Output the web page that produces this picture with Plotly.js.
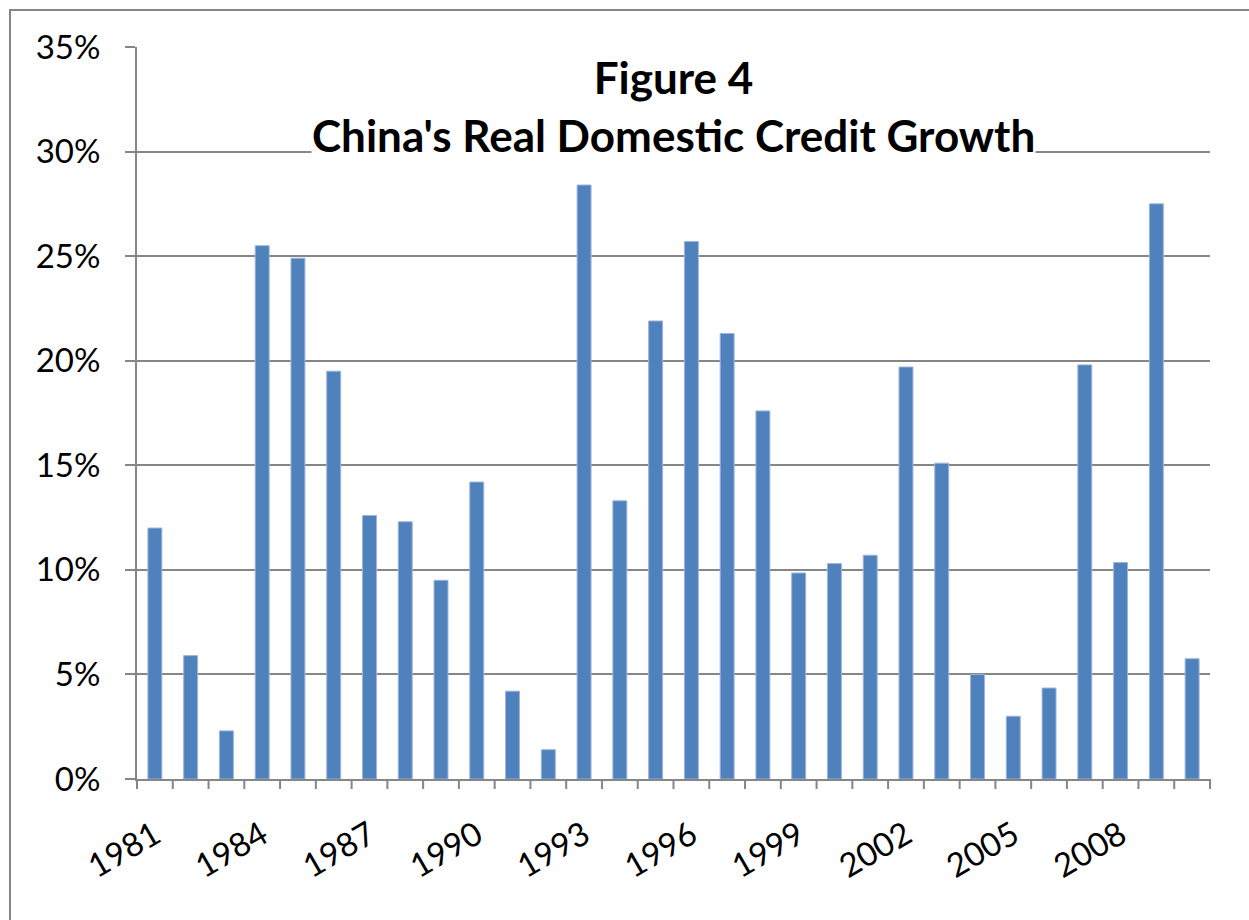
<!DOCTYPE html>
<html>
<head>
<meta charset="utf-8">
<script src="https://cdn.plot.ly/plotly-3.0.1.min.js"></script>
<style>
html,body{margin:0;padding:0;background:#fff;}
#chart{width:1249px;height:920px;}
</style>
</head>
<body>
<div id="chart"></div>
<script>
const years = [1981,1982,1983,1984,1985,1986,1987,1988,1989,1990,
               1991,1992,1993,1994,1995,1996,1997,1998,1999,2000,
               2001,2002,2003,2004,2005,2006,2007,2008,2009,2010];
const growth = [0.120,0.059,0.023,0.255,0.249,0.195,0.126,0.123,0.095,0.142,
                0.042,0.014,0.284,0.133,0.219,0.257,0.213,0.176,0.0985,0.103,
                0.107,0.197,0.151,0.050,0.030,0.0435,0.198,0.1035,0.275,0.0575];
const labelYears = [1981,1984,1987,1990,1993,1996,1999,2002,2005,2008];
const titleLine1 = "Figure 4";
const titleLine2 = "China's Real Domestic Credit Growth";

const gray = '#868686';

// category boundaries (Excel-style tick marks between the bars)
const boundaries = years.map(y => y - 0.5).concat([years[years.length-1] + 0.5]);
const xRange = [years[0] - 0.5, years[years.length-1] + 0.5];

const trace = {
  type: 'bar',
  x: years,
  y: growth,
  marker: {color: '#4F81BD', line: {color: '#9DB5D9', width: 1}},
  hoverinfo: 'x+y'
};

const W = 1249, H = 920;
const m = {l: 137, r: 39, t: 47, b: 141};
const pw = W - m.l - m.r, ph = H - m.t - m.b;
const bx = (10 - m.l) / pw;
const by = (H - m.b - 10) / ph;
const tickDown = -10 / ph;
const toPaper = v => (v - xRange[0]) / (xRange[1] - xRange[0]);

const tickPath = boundaries.map(b => 'M ' + toPaper(b) + ' 0 L ' + toPaper(b) + ' ' + tickDown).join(' ');

const layout = {
  width: W, height: H,
  margin: m,
  paper_bgcolor: '#fff',
  plot_bgcolor: '#fff',
  showlegend: false,
  bargap: 0.61,
  font: {family: 'Lato, sans-serif', color: '#000'},
  title: {
    text: '<b>' + titleLine1 + '</b>',
    font: {family: 'Lato, sans-serif', size: 44, color: '#000'},
    x: 0.5, xref: 'paper', xanchor: 'center',
    y: 1 - 79/920, yref: 'container', yanchor: 'middle'
  },
  annotations: [{
    text: '<b>' + titleLine2 + '</b>',
    xref: 'paper', x: 0.5, xanchor: 'center',
    yref: 'y', y: 0.30, yanchor: 'middle', yshift: 17,
    showarrow: false,
    bgcolor: '#fff', borderpad: 0,
    font: {family: 'Lato, sans-serif', size: 44, color: '#000'}
  }],
  xaxis: {
    type: 'linear',
    range: xRange,
    tickmode: 'array',
    tickvals: labelYears,
    ticktext: labelYears.map(String),
    tickangle: -30,
    ticks: 'outside', ticklen: 10, tickwidth: 1, tickcolor: 'rgba(0,0,0,0)',
    ticklabelstandoff: 12,
    tickfont: {family: 'Lato, sans-serif', size: 33, color: '#000'},
    showgrid: false,
    zeroline: false,
    showline: true, linecolor: gray, linewidth: 2,
    fixedrange: true
  },
  yaxis: {
    range: [0, 0.35],
    tickmode: 'linear', tick0: 0, dtick: 0.05,
    tickformat: '.0%',
    ticks: 'outside', ticklen: 10, tickwidth: 2, tickcolor: gray,
    tickfont: {family: 'Lato, sans-serif', size: 33, color: '#000'},
    showgrid: true, gridcolor: gray, gridwidth: 2,
    zeroline: false,
    showline: true, linecolor: gray, linewidth: 2,
    ticklabelstandoff: 18,
    fixedrange: true
  },
  shapes: [{
    type: 'path', xref: 'paper', yref: 'paper', layer: 'above',
    path: 'M ' + bx + ' -1 L ' + bx + ' ' + by + ' L 2 ' + by,
    line: {color: gray, width: 2}
  }, {
    type: 'path', xref: 'paper', yref: 'paper', layer: 'above',
    path: tickPath,
    line: {color: gray, width: 2}
  }]
};

Plotly.newPlot('chart', [trace], layout, {displayModeBar: false, staticPlot: true});
</script>
</body>
</html>
